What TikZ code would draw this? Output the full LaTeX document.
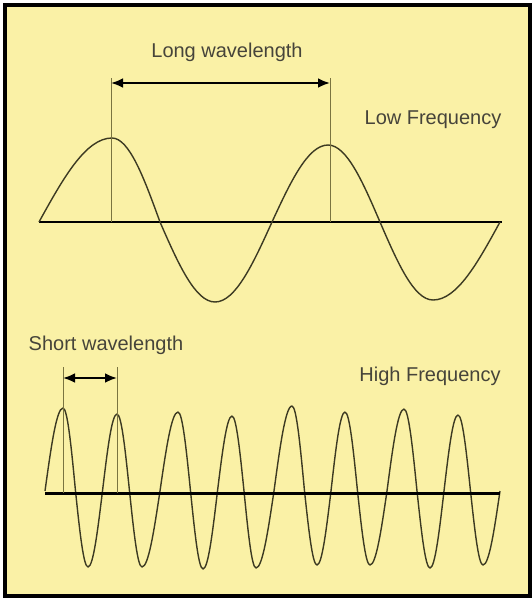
\documentclass[tikz,border=0pt]{standalone}
\usepackage{fontspec}
\setmainfont{Liberation Sans}
\usetikzlibrary{arrows.meta}
\definecolor{bgyellow}{HTML}{FAF1A6}
\definecolor{wavecol}{HTML}{3C3A22}
\definecolor{guidecol}{HTML}{7A7440}
\definecolor{txtcol}{HTML}{46443A}
\tikzset{
  wave/.style={draw=wavecol, line width=1.4pt, line join=round},
  axisline/.style={draw=black, line width=2pt},
  guide/.style={draw=guidecol, line width=0.9pt},
  dimarrow/.style={draw=black, line width=2.4pt, {Latex[length=12pt,width=10pt]}-{Latex[length=12pt,width=10pt]}},
  lbl/.style={text=txtcol, font=\fontsize{20}{24}\selectfont, inner sep=0pt}
}
\begin{document}
\begin{tikzpicture}[x=1pt,y=-1pt]
\useasboundingbox (0,0) rectangle (532,598);
\fill[white] (0,0) rectangle (532,598);
\draw[fill=bgyellow, draw=black, line width=3.5pt] (5,5) rectangle (530,596);

% low frequency
\coordinate (la0) at (39,222);
\coordinate (la1) at (502,222);
\draw[axisline] (la0) -- (la1);
\draw[wave] (39,222) sin (112,138) cos (160,222) sin (215,302) cos (272,222)
  sin (328,145) cos (380,222) sin (433,300) cos (500,222);
\coordinate (lg1t) at (111,78);
\coordinate (lg1b) at (111,222);
\coordinate (lg2t) at (330,78);
\coordinate (lg2b) at (330,222);
\draw[guide] (lg1t) -- (lg1b);
\draw[guide] (lg2t) -- (lg2b);
\coordinate (la) at (111,83);
\coordinate (lb) at (330,83);
\draw[dimarrow] (la) -- (lb);
\node[lbl] (longwl) at (227,52) {Long wavelength};
\node[lbl] (lowf) at (433,120) {Low Frequency};

% high frequency
\coordinate (ha0) at (45,493);
\coordinate (ha1) at (500,493);
\draw[wave] (45,491) sin (63,408) cos (75.5,491) sin (88,567) cos (102.5,491)
  sin (117,414) cos (129.5,491) sin (142,567) cos (160,491)
  sin (178,412) cos (190.5,491) sin (203,569) cos (217.5,491)
  sin (232,416) cos (244,491) sin (256,568) cos (274,491)
  sin (292,406) cos (304.5,491) sin (317,565) cos (331,491)
  sin (345,412) cos (357.5,491) sin (370,565) cos (387,491)
  sin (404,409) cos (417,491) sin (430,568) cos (444,491)
  sin (458,415) cos (470.5,491) sin (483,565) cos (500,491);
\draw[axisline, line width=3pt] (ha0) -- (ha1);
\coordinate (hg1t) at (63,367);
\coordinate (hg1b) at (63,493);
\coordinate (hg2t) at (117,367);
\coordinate (hg2b) at (117,493);
\draw[guide] (hg1t) -- (hg1b);
\draw[guide] (hg2t) -- (hg2b);
\coordinate (ha) at (63,378);
\coordinate (hb) at (117,378);
\draw[dimarrow] (ha) -- (hb);
\node[lbl] (shortwl) at (106,345) {Short wavelength};
\node[lbl] (highf) at (430,376) {High Frequency};
\end{tikzpicture}
\end{document}
